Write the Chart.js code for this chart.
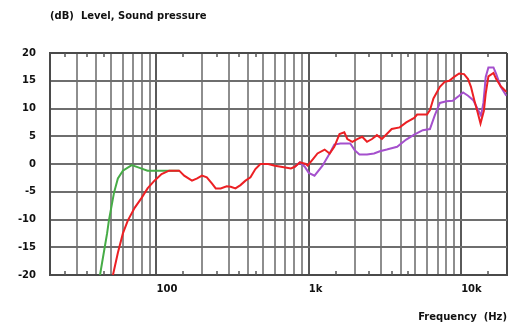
<!DOCTYPE html>
<html>
<head>
<meta charset="utf-8">
<script src="https://cdn.jsdelivr.net/npm/chart.js@4/dist/chart.umd.min.js"></script>
<style>
  html, body { margin: 0; padding: 0; background: #fff; }
  #wrap { width: 515px; height: 329px; }
</style>
</head>
<body>
<div id="wrap"><canvas id="chart" width="515" height="329"></canvas></div>
<script>
// frequency grid + labels
const freqGrid = [20, 30, 40, 50, 60, 70, 80, 90, 100, 200, 300, 400, 500, 600, 700, 800, 900,
  1000, 2000, 3000, 4000, 5000, 6000, 7000, 8000, 9000, 10000, 20000];
const labelFreqs = [100, 1000, 10000];
const labelTexts = ['100', '1k', '10k'];
const minorTickFreqs = [25, 35, 45, 150, 250, 350, 450, 1500, 2500, 3500, 4500, 15000];

// red curve
const redFreq = [51.8, 55.8, 60.2, 64.8, 71.9, 79.9, 87.4, 97, 108, 121, 141, 152, 171, 185, 199, 214, 231, 245,
  264, 289, 307, 330, 356, 384, 414, 446, 481, 541, 600, 656, 763, 809, 875, 955, 982, 1065, 1140, 1270,
  1370, 1470, 1590, 1710, 1790, 1930, 2080, 2240, 2410, 2600, 2800, 3020, 3250, 3500, 3950, 4360, 4920,
  5140, 5970, 6240, 6580, 7250, 7800, 8350, 9000, 9700, 10450, 11100, 11600, 12200, 12800, 13400, 14100,
  14500, 15100, 16300, 17000, 18200, 19800];
const redLevel = [-20, -16, -12.5, -10.2, -7.9, -6.1, -4.4, -3.0, -1.8, -1.2, -1.2, -2.1, -3.0, -2.6, -2.1, -2.4, -3.5, -4.4,
  -4.4, -4.0, -4.1, -4.4, -3.8, -3.0, -2.4, -0.9, 0, 0, -0.3, -0.5, -0.8, -0.5, 0.3, 0, -0.3, 0.9, 1.9, 2.6,
  1.9, 3.1, 5.4, 5.7, 4.5, 4.0, 4.5, 4.9, 4.0, 4.5, 5.2, 4.5, 5.4, 6.3, 6.6, 7.5, 8.3,
  8.9, 8.9, 9.7, 11.8, 13.9, 14.8, 15.0, 15.7, 16.3, 16.2, 15.3, 13.9, 11.5, 9.4, 7.3, 9.6,
  12.7, 15.8, 16.4, 15.3, 14.0, 13.0];

// purple curve (splits off from red near 1k)
const purpleFreq = [809, 875, 940, 1000, 1090, 1230, 1370, 1470, 1610, 1870, 2000, 2150, 2410, 2680, 2930,
  3250, 3800, 4360, 4920, 5600, 6240, 6700, 7250, 8000, 8800, 9700, 10300, 11100, 12000, 13000, 13500,
  14000, 14500, 15100, 16300, 17000, 18200, 19800];
const purpleLevel = [-0.5, 0.3, -0.5, -1.6, -2.1, -0.3, 1.9, 3.5, 3.7, 3.7, 2.5, 1.7, 1.7, 1.9, 2.3,
  2.6, 3.1, 4.4, 5.3, 6.1, 6.3, 8.7, 11.0, 11.3, 11.4, 12.3, 12.9, 12.3, 11.5, 9.6, 8.7,
  11.0, 15.7, 17.4, 17.4, 16.2, 13.9, 12.3];

// green curve (low end rolls off earlier)
const greenFreq = [42.6, 44, 47.4, 48.7, 52.6, 55.8, 60.2, 68.8, 77.5, 87.4, 100, 121, 141];
const greenLevel = [-20, -17.7, -12.5, -10.2, -5.2, -2.6, -1.2, -0.2, -0.7, -1.2, -1.2, -1.2, -1.2];

const toPoints = (xs, ys) => xs.map((x, i) => ({ x: x, y: ys[i] }));

const minorTicks = {
  id: 'minorTicks',
  afterDraw(chart) {
    const ctx = chart.ctx;
    const xs = chart.scales.x;
    const area = chart.chartArea;
    ctx.save();
    ctx.strokeStyle = '#555';
    ctx.lineWidth = 1.5;
    minorTickFreqs.forEach(f => {
      const px = Math.round(xs.getPixelForValue(f));
      ctx.beginPath();
      ctx.moveTo(px, area.top);
      ctx.lineTo(px, area.top + 4);
      ctx.moveTo(px, area.bottom);
      ctx.lineTo(px, area.bottom - 4);
      ctx.stroke();
    });
    ctx.restore();
  }
};

const font = { family: '"DejaVu Sans", sans-serif', size: 10, weight: 'bold' };

new Chart(document.getElementById('chart'), {
  type: 'line',
  data: {
    datasets: [
      { label: 'red', data: toPoints(redFreq, redLevel), borderColor: 'rgb(236,32,36)', borderWidth: 2, pointRadius: 0 },
      { label: 'purple', data: toPoints(purpleFreq, purpleLevel), borderColor: 'rgb(165,80,205)', borderWidth: 2, pointRadius: 0 },
      { label: 'green', data: toPoints(greenFreq, greenLevel), borderColor: 'rgb(70,172,70)', borderWidth: 2, pointRadius: 0 }
    ]
  },
  options: {
    responsive: false,
    animation: false,
    layout: { padding: { left: 0, right: 3, top: 0, bottom: 0 } },
    plugins: {
      legend: { display: false },
      tooltip: { enabled: false },
      title: {
        display: true,
        text: '(dB)  Level, Sound pressure',
        align: 'start',
        fullSize: false,
        color: '#111',
        font: font,
        padding: { top: 10, bottom: 31 }
      }
    },
    scales: {
      x: {
        type: 'logarithmic',
        min: 20,
        max: 20000,
        afterBuildTicks(scale) {
          scale.ticks = freqGrid.map(v => ({ value: v }));
        },
        ticks: {
          autoSkip: false,
          maxRotation: 0,
          align: 'start',
          padding: 8,
          color: '#111',
          font: font,
          callback(value) {
            const i = labelFreqs.indexOf(value);
            return i >= 0 ? labelTexts[i] : '';
          }
        },
        grid: {
          drawTicks: false,
          lineWidth: 2,
          color(c) {
            const v = c.tick ? c.tick.value : 0;
            if (v === 20 || v === 20000) return '#4a4a4a';
            if (labelFreqs.includes(v)) return '#5a5a5a';
            return '#8e8e8e';
          }
        },
        border: { display: true, color: '#4a4a4a', width: 2 },
        title: {
          display: true,
          text: 'Frequency  (Hz)',
          align: 'end',
          color: '#111',
          font: font,
          padding: { top: 8, bottom: 6 }
        }
      },
      y: {
        min: -20,
        max: 20,
        afterFit(scale) { scale.width = 50; },
        ticks: {
          stepSize: 5,
          padding: 14,
          color: '#111',
          font: font
        },
        grid: {
          drawTicks: false,
          lineWidth: 2,
          color(c) {
            const v = c.tick ? c.tick.value : 0;
            if (v === 20 || v === -20) return '#4a4a4a';
            return '#6e6e6e';
          }
        },
        border: { display: true, color: '#4a4a4a', width: 2 }
      }
    }
  },
  plugins: [minorTicks]
});
</script>
</body>
</html>
